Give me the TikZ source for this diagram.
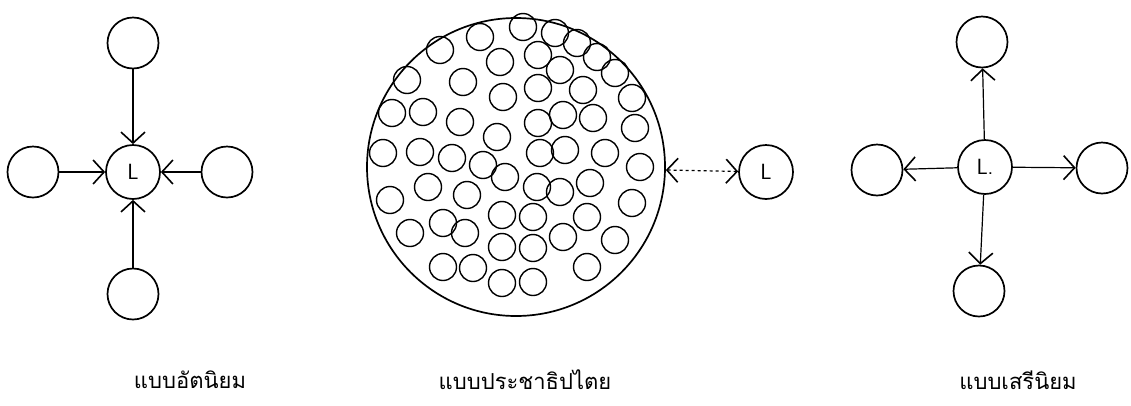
\documentclass[tikz,border=0pt]{standalone}
\usepackage{fontspec}
\usepackage{tikz}
\usetikzlibrary{arrows.meta, positioning}
\newfontfamily\thaifont[Script=Thai]{Loma}
\tikzset{
  member/.style={circle, draw=black, minimum size=51pt, inner sep=0pt,
    line width=1.7pt},
  leader/.style={circle, draw=black, minimum size=54pt, inner sep=0pt,
    line width=1.7pt, font=\sffamily\fontsize{22}{24}\selectfont},
  crowd/.style={draw=black, line width=1.4pt},
  arrow/.style={-{Straight Barb[length=11pt, width=24pt, line width=1.6pt]},
    line width=1.2pt},
  dblarrow/.style={{Straight Barb[length=11pt, width=24pt, line width=1.6pt]}-{Straight Barb[length=11pt, width=24pt, line width=1.6pt]},
    line width=1.2pt, dashed},
  caption/.style={font=\thaifont\fontsize{22}{26}\selectfont}
}
\begin{document}
\begin{tikzpicture}[x=1pt, y=-1pt]
  \useasboundingbox (0,0) rectangle (1131,405);

  % Left: members point to the leader
  \node (LC) at (133, 172) [leader] {L};
  \node (LT) at (133, 43) [member] {};
  \node (LL) at (33, 172) [member] {};
  \node (LR) at (227, 172) [member] {};
  \node (LB) at (133, 294) [member] {};
  \draw[arrow] (LT) -- (LC);
  \draw[arrow] (LL) -- (LC);
  \draw[arrow] (LR) -- (LC);
  \draw[arrow] (LB) -- (LC);

  % Middle: the group and the leader
  \node (MG) at (516, 167) [circle, draw=black, minimum size=298pt,
    inner sep=0pt, line width=1.7pt] {};
  \foreach \x/\y in {480/37, 523/27, 555/33, 577/43, 440/50, 500/62,
      538/55, 597/57, 560/70, 615/73, 407/80, 463/82, 503/97, 538/88,
      583/90, 632/98, 392/113, 423/112, 460/122, 538/123, 563/115,
      593/118, 635/128, 497/137, 383/153, 420/152, 452/158, 483/165,
      540/153, 565/150, 605/153, 640/167, 505/177, 537/187, 428/187,
      467/195, 560/192, 590/183, 390/200, 632/203, 502/215, 533/217,
      587/217, 443/223, 465/233, 410/233, 563/237, 615/240, 502/247,
      533/248, 443/267, 473/268, 502/283, 533/282, 587/267}
    \draw[crowd] (\x, \y) circle (13.5);
  \node (ML) at (766, 172) [leader] {L};
  \draw[dblarrow] (MG) -- (ML);

  % Right: the leader points to members
  \node (RC) at (985, 167) [leader] {L.};
  \node (RT) at (982, 42) [member] {};
  \node (RL) at (877, 170) [member] {};
  \node (RR) at (1102, 168) [member] {};
  \node (RB) at (979, 291) [member] {};
  \draw[arrow] (RC) -- (RT);
  \draw[arrow] (RC) -- (RL);
  \draw[arrow] (RC) -- (RR);
  \draw[arrow] (RC) -- (RB);

  % Captions
  \node (CapL) at (190, 380) [caption] {แบบอัตนิยม};
  \node (CapM) at (525, 380) [caption] {แบบประชาธิปไตย};
  \node (CapR) at (1018, 380) [caption] {แบบเสรีนิยม};
\end{tikzpicture}
\end{document}
